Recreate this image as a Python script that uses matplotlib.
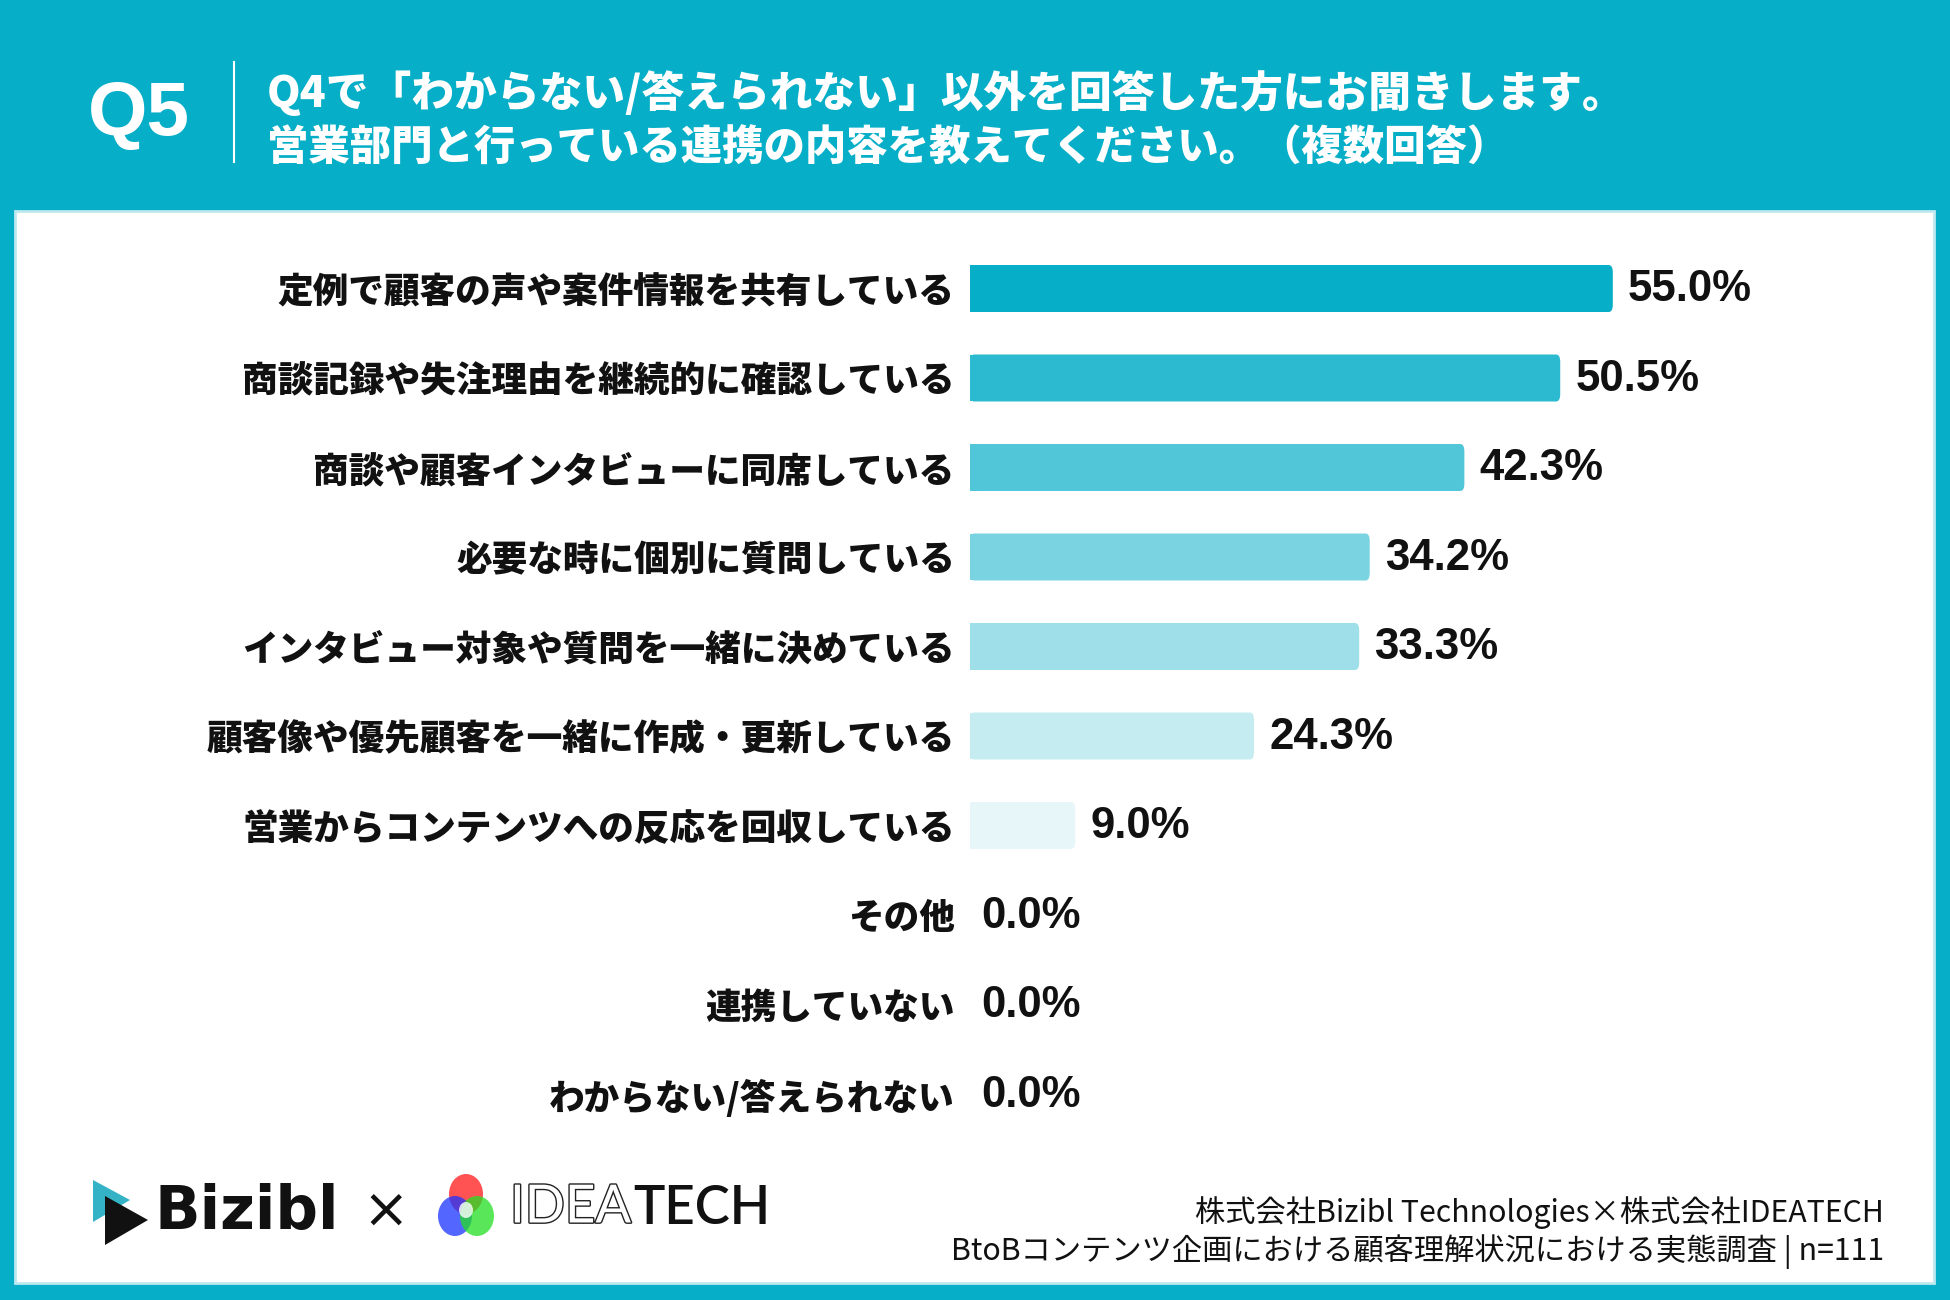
import matplotlib
matplotlib.use('Agg')
import matplotlib.pyplot as plt
import matplotlib.patheffects as pe
from matplotlib.patches import Rectangle, Polygon, Ellipse, FancyBboxPatch

plt.rcParams['font.family'] = ['Noto Sans CJK JP', 'DejaVu Sans']

# data
categories = ['定例で顧客の声や案件情報を共有している',
              '商談記録や失注理由を継続的に確認している',
              '商談や顧客インタビューに同席している',
              '必要な時に個別に質問している',
              'インタビュー対象や質問を一緒に決めている',
              '顧客像や優先顧客を一緒に作成・更新している',
              '営業からコンテンツへの反応を回収している',
              'その他',
              '連携していない',
              'わからない/答えられない']
values = [55.0, 50.5, 42.3, 34.2, 33.3, 24.3, 9.0, 0.0, 0.0, 0.0]

question_no = 'Q5'
title_lines = ['Q4で「わからない/答えられない」以外を回答した方にお聞きします。',
               '営業部門と行っている連携の内容を教えてください。（複数回答）']
footer_lines = ['株式会社Bizibl Technologies×株式会社IDEATECH',
                'BtoBコンテンツ企画における顧客理解状況における実態調査 | n=111']

bar_colors = ['#06aec7', '#2bbad0', '#52c6d9', '#79d3e1', '#9fdfe9',
              '#c5ecf1', '#e7f6f9', '#f2fafc', '#f2fafc', '#f2fafc']
teal = '#06aec7'

W, H = 1950, 1300


def fx(px):
    return px / W


def fy(py):
    # py counted from top
    return 1 - py / H


fig = plt.figure(figsize=(19.5, 13), dpi=100)
fig.patch.set_facecolor(teal)

# white panel
fig.add_artist(Rectangle((fx(15), fy(1283)), fx(1934) - fx(15), (1283 - 211) / H,
                         transform=fig.transFigure, facecolor='white',
                         edgecolor='#bfe9f0', linewidth=2, zorder=0))

# header
fig.text(fx(88), fy(116), question_no, color='white', fontsize=55,
         fontweight='bold', family=['Liberation Sans', 'DejaVu Sans'],
         va='center', ha='left')
fig.add_artist(plt.Line2D([fx(234), fx(234)], [fy(62), fy(162)],
                          transform=fig.transFigure, color='white', lw=1.5))
fig.text(fx(267), fy(93), title_lines[0], color='white', fontsize=30.8,
         fontweight='heavy', va='center', ha='left')
fig.text(fx(267), fy(149), title_lines[1], color='white', fontsize=29.8,
         fontweight='heavy', va='center', ha='left')

# bar chart
top, bottom = 243.75, 1138.75
ax = fig.add_axes([fx(970), fy(bottom), fx(935), (bottom - top) / H])
ax.set_facecolor('none')
pos = list(range(len(categories)))
bars = ax.barh(pos, values, height=0.525, color=bar_colors[:len(values)])
ax.set_xlim(0, 80)
ax.set_ylim(len(categories) - 0.5, -0.5)

# rounded right end
for b in bars:
    if b.get_width() <= 0:
        continue
    b.set_visible(False)
    x0, y0 = b.get_x(), b.get_y()
    w, h = b.get_width(), b.get_height()
    r = 0.35
    ax.add_patch(Rectangle((x0, y0), min(r * 2, w), h, facecolor=b.get_facecolor(),
                           edgecolor='none'))
    ax.add_patch(FancyBboxPatch((x0, y0), w, h,
                                boxstyle='round,pad=0,rounding_size=%.2f' % r,
                                mutation_aspect=0.525 / 2.2,
                                facecolor=b.get_facecolor(), edgecolor='none'))

ax.set_yticks(pos)
ax.set_yticklabels(categories, fontsize=25.7, fontweight='heavy', color='#111111')
ax.tick_params(axis='y', length=0, pad=11)
ax.set_xticks([])
for s in ax.spines.values():
    s.set_visible(False)

for i, v in enumerate(values):
    ax.annotate('%.1f%%' % v, xy=(v, i), xytext=(11 if v > 0 else 8, -1),
                textcoords='offset points', va='center', ha='left',
                fontsize=31.5, fontweight='bold', color='#111111',
                family=['Liberation Sans', 'DejaVu Sans'])

# logos (approximate)
fig.add_artist(Polygon([[fx(93), fy(1180)], [fx(93), fy(1222)], [fx(130), fy(1200)]],
                       closed=True, transform=fig.transFigure,
                       facecolor='#35b3c6', edgecolor='none'))
fig.add_artist(Polygon([[fx(105), fy(1196)], [fx(105), fy(1245)], [fx(148), fy(1220)]],
                       closed=True, transform=fig.transFigure,
                       facecolor='#111111', edgecolor='none'))
fig.text(fx(154), fy(1212), 'Bizibl', fontsize=43, fontweight='bold',
         family=['DejaVu Sans'], color='#111111', va='center', ha='left')
fig.text(fx(386), fy(1212), '×', fontsize=40, color='#111111',
         family=['DejaVu Sans'], va='center', ha='center')

cx, cy = 466, 1208
for dx, dy, c in [(0, -14, '#ff1a1a'), (-11, 8, '#1a33ff'), (11, 8, '#22e022')]:
    fig.add_artist(Ellipse((fx(cx + dx), fy(cy + dy)), 34 / W, 40 / H,
                           transform=fig.transFigure, facecolor=c,
                           edgecolor='none', alpha=0.75))
fig.add_artist(Ellipse((fx(cx), fy(cy + 2)), 14 / W, 16 / H,
                       transform=fig.transFigure, facecolor='white',
                       edgecolor='none', alpha=0.8))
idea = fig.text(fx(510), fy(1208), 'IDEA', fontsize=38, color='white',
                family=['Lato', 'DejaVu Sans'], va='center', ha='left',
                path_effects=[pe.withStroke(linewidth=2, foreground='#222222')])
fig.canvas.draw()
bb = idea.get_window_extent()
fig.text(bb.x1 / W + 2 / W, fy(1208), 'TECH', fontsize=38, color='#111111',
         fontweight='semibold', family=['Lato', 'DejaVu Sans'],
         va='center', ha='left')

fig.text(fx(1884), fy(1213), footer_lines[0], fontsize=21.8, color='#111111',
         va='center', ha='right')
fig.text(fx(1884), fy(1252), footer_lines[1], fontsize=21.8, color='#111111',
         va='center', ha='right')

fig.savefig('out.png', dpi=100, facecolor=fig.get_facecolor())
